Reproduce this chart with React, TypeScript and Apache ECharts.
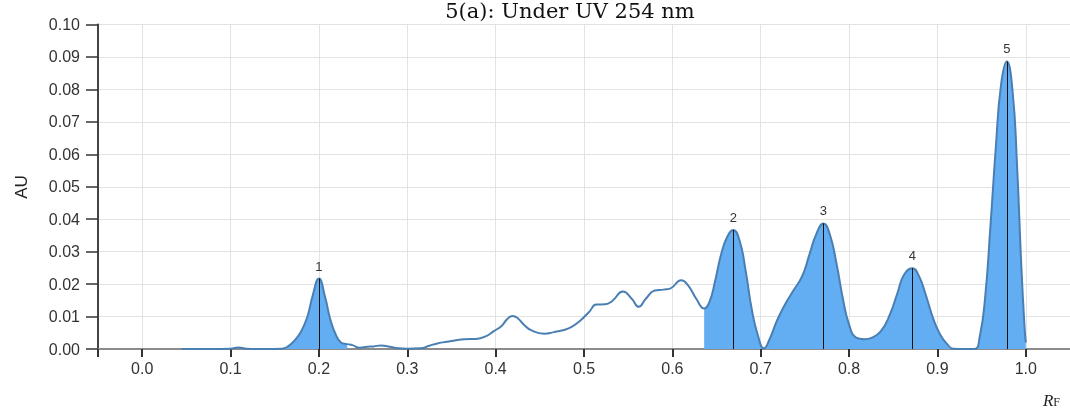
import React, { useEffect, useRef } from "react";
import * as echarts from "echarts";

// Densitometric trace (RF vs absorbance units)
const rf = [
  0.045, 0.08, 0.1, 0.109, 0.118, 0.14, 0.158, 0.165, 0.172, 0.18, 0.187, 0.193, 0.2,
  0.207, 0.213, 0.219, 0.225, 0.232, 0.238, 0.246, 0.255, 0.262, 0.27, 0.28, 0.29, 0.3,
  0.315, 0.325, 0.335, 0.345, 0.355, 0.365, 0.378, 0.388, 0.398, 0.407, 0.413, 0.419,
  0.425, 0.432, 0.44, 0.455, 0.466, 0.476, 0.486, 0.496, 0.506, 0.514, 0.524, 0.532,
  0.544, 0.554, 0.562, 0.57, 0.58, 0.59, 0.598, 0.61, 0.618, 0.627, 0.636, 0.642, 0.648,
  0.655, 0.662, 0.669, 0.676, 0.683, 0.69, 0.697, 0.7035, 0.71, 0.718, 0.727, 0.737,
  0.747, 0.755, 0.763, 0.771, 0.778, 0.786, 0.793, 0.8, 0.808, 0.817, 0.826, 0.836,
  0.846, 0.855, 0.862, 0.8715, 0.879, 0.887, 0.895, 0.903, 0.911, 0.918, 0.93, 0.942,
  0.948, 0.954, 0.96, 0.966, 0.972, 0.9785, 0.985, 0.99, 0.995, 0.9985, 1.0,
];
const au = [
  0, 0, 0.0001, 0.0005, 0.0001, 0, 0.0001, 0.0008, 0.0025, 0.0055, 0.01, 0.0165, 0.0217,
  0.016, 0.009, 0.0045, 0.002, 0.0015, 0.0012, 0.0004, 0.0007, 0.0008, 0.0011, 0.0007,
  0.0002, 0.0001, 0.0002, 0.001, 0.0018, 0.0022, 0.0027, 0.003, 0.0031, 0.0038, 0.0055,
  0.0072, 0.0092, 0.0102, 0.0095, 0.0075, 0.0058, 0.0047, 0.0052, 0.0058, 0.0068,
  0.0088, 0.0115, 0.0137, 0.0138, 0.0148, 0.0177, 0.0155, 0.013, 0.0155, 0.018, 0.0183,
  0.0187, 0.0212, 0.0195, 0.0155, 0.0125, 0.0145, 0.0205, 0.029, 0.0345, 0.0367, 0.0335,
  0.024, 0.012, 0.004, 0.0002, 0.003, 0.0085, 0.0135, 0.018, 0.0225, 0.029, 0.0355,
  0.0387, 0.0355, 0.026, 0.0155, 0.0075, 0.0035, 0.003, 0.0035, 0.0055, 0.0105, 0.0175,
  0.0228, 0.0249, 0.0225, 0.0165, 0.0095, 0.0045, 0.0015, 0.0001, 0, 0, 0.004, 0.016,
  0.038, 0.062, 0.0815, 0.0886, 0.0795, 0.057, 0.025, 0.007, 0.002,
];

// Integrated peaks
const peakIds = ["1", "2", "3", "4", "5"];
const peakRf = [0.2, 0.669, 0.771, 0.8715, 0.9785];
const peakAu = [0.0217, 0.0367, 0.0387, 0.0249, 0.0886];

// Shaded (integrated) RF windows
const fillSpans = [
  [0.158, 0.232],
  [0.636, 1.0],
];

const xTickValues = [0, 0.1, 0.2, 0.3, 0.4, 0.5, 0.6, 0.7, 0.8, 0.9, 1.0];
const xTickLabels = ["0.0", "0.1", "0.2", "0.3", "0.4", "0.5", "0.6", "0.7", "0.8", "0.9", "1.0"];

const LINE = "#4a7fb3";
const FILL = "#63adf2";
const SANS = "'Liberation Sans', Arial, sans-serif";
const SERIF = "'DejaVu Serif', serif";
const SMOOTH = 0.5;

export default function App() {
  const ref = useRef<HTMLDivElement>(null);

  useEffect(() => {
    if (!ref.current) return;
    const chart = echarts.init(ref.current, undefined, { renderer: "svg" });

    const points = rf.map((x, i) => [x, au[i]]);
    const fillSeries = fillSpans.map(([a, b]) => ({
      type: "line",
      data: points.filter((p) => p[0] >= a && p[0] <= b),
      smooth: SMOOTH,
      showSymbol: false,
      symbol: "none",
      lineStyle: { width: 0 },
      areaStyle: { color: FILL, opacity: 1 },
      z: 1,
      silent: true,
    }));

    chart.setOption({
      animation: false,
      grid: { left: 98, top: 24.5, width: 977, height: 324.5 },
      xAxis: {
        type: "value",
        min: -0.05,
        max: 1.05,
        axisLine: { show: true, onZero: false, lineStyle: { color: "#8c8c8c", width: 2 } },
        axisTick: {
          show: true,
          length: 8,
          lineStyle: { color: "#333", width: 2 },
          customValues: [-0.05, ...xTickValues],
        },
        axisLabel: {
          customValues: xTickValues,
          formatter: (v: number) => {
            const i = xTickValues.findIndex((t) => Math.abs(t - v) < 1e-6);
            return i >= 0 ? xTickLabels[i] : "";
          },
          fontSize: 16,
          fontFamily: SANS,
          color: "#333",
          margin: 11,
        },
        splitLine: { show: true, lineStyle: { color: "#e3e3e3", width: 1 } },
      },
      yAxis: {
        type: "value",
        min: 0,
        max: 0.1,
        interval: 0.01,
        axisLine: { show: true, onZero: false, lineStyle: { color: "#444", width: 2 } },
        axisTick: { show: true, length: 12, lineStyle: { color: "#333", width: 1.5 } },
        axisLabel: {
          formatter: (v: number) => v.toFixed(2),
          fontSize: 16,
          fontFamily: SANS,
          color: "#333",
          margin: 18,
        },
        splitLine: { show: true, lineStyle: { color: "#e3e3e3", width: 1 } },
      },
      series: [
        ...fillSeries,
        {
          type: "line",
          data: points,
          smooth: SMOOTH,
          showSymbol: false,
          symbol: "none",
          lineStyle: { color: LINE, width: 2 },
          z: 3,
          markLine: {
            silent: true,
            symbol: ["none", "none"],
            lineStyle: { color: "#111", width: 1, type: "solid" },
            label: {
              show: true,
              position: "end",
              distance: 6,
              formatter: (p: any) => p.name,
              fontSize: 13,
              fontFamily: SANS,
              color: "#333",
            },
            data: peakRf.map((x, i) => [
              { coord: [x, 0], name: peakIds[i] },
              { coord: [x, peakAu[i]] },
            ]),
          },
        },
      ],
      graphic: [
        {
          type: "text",
          x: 570,
          y: 0,
          style: {
            text: "5(a): Under UV 254 nm",
            font: `21px ${SERIF}`,
            fill: "#111",
            textAlign: "center",
            textVerticalAlign: "top",
          },
        },
        {
          type: "text",
          x: 21,
          y: 187,
          rotation: Math.PI / 2,
          style: {
            text: "AU",
            font: `17px ${SANS}`,
            fill: "#222",
            textAlign: "center",
            textVerticalAlign: "middle",
          },
        },
        {
          type: "text",
          x: 1060,
          y: 409,
          style: {
            text: "{r|R}{f|F}",
            textAlign: "right",
            textVerticalAlign: "bottom",
            rich: {
              r: { fontFamily: "'Liberation Serif', serif", fontStyle: "italic", fontSize: 17, fill: "#222" },
              f: { fontFamily: "'Liberation Serif', serif", fontSize: 12, fill: "#222", padding: [3, 0, 0, 0] },
            },
          },
        },
      ],
    });

    return () => chart.dispose();
  }, []);

  return (
    <div
      ref={ref}
      style={{ position: "fixed", left: 0, top: 0, width: 1070, height: 412 }}
    />
  );
}
